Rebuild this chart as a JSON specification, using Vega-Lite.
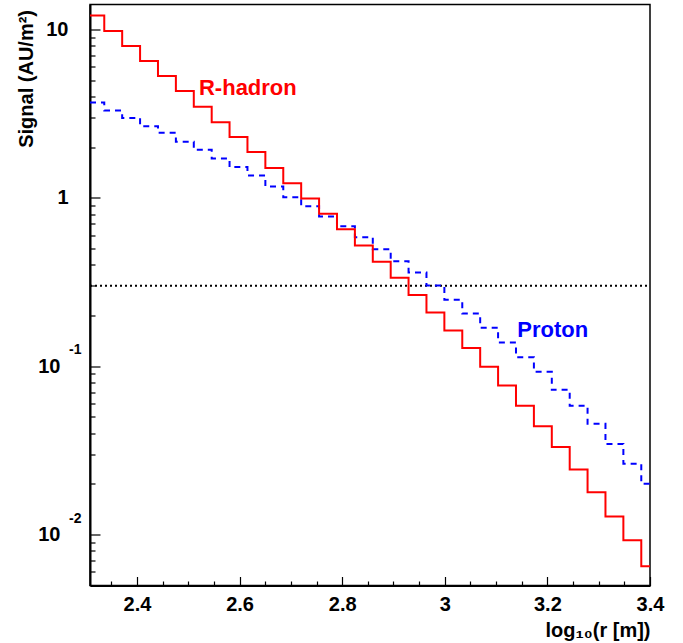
{
  "$schema": "https://vega.github.io/schema/vega-lite/v6.json",
  "width": 560,
  "height": 581,
  "autosize": {"type": "none"},
  "padding": {"left": 90, "top": 4.5, "right": 33, "bottom": 57},
  "background": "white",
  "config": {
    "view": {"stroke": "black", "strokeWidth": 1.5},
    "axis": {
      "grid": false,
      "domainColor": "black",
      "domainWidth": 2,
      "tickColor": "black",
      "tickWidth": 1.2,
      "labelFont": "Liberation Sans",
      "labelFontWeight": "bold",
      "labelFontSize": 20,
      "labelColor": "black",
      "titleFont": "Liberation Sans",
      "titleFontWeight": "bold",
      "titleFontSize": 20,
      "titleColor": "black"
    },
    "text": {"font": "Liberation Sans"}
  },
  "datasets": {
    "ref": [{"x": 2.3085, "x2": 3.4, "y": 0.3}],
    "rhadron": [
      {"x": 2.3085, "y": 12.1}, {"x": 2.3363, "y": 9.77}, {"x": 2.3712, "y": 7.96}, {"x": 2.4061, "y": 6.48},
      {"x": 2.441, "y": 5.28}, {"x": 2.4759, "y": 4.3}, {"x": 2.5108, "y": 3.47}, {"x": 2.5457, "y": 2.81},
      {"x": 2.5805, "y": 2.29}, {"x": 2.6154, "y": 1.87}, {"x": 2.6503, "y": 1.5}, {"x": 2.6852, "y": 1.22},
      {"x": 2.7201, "y": 0.99}, {"x": 2.755, "y": 0.803}, {"x": 2.7899, "y": 0.649}, {"x": 2.8248, "y": 0.521},
      {"x": 2.8597, "y": 0.417}, {"x": 2.8946, "y": 0.335}, {"x": 2.9294, "y": 0.264}, {"x": 2.9643, "y": 0.208},
      {"x": 2.9992, "y": 0.163}, {"x": 3.0341, "y": 0.128}, {"x": 3.069, "y": 0.099}, {"x": 3.1039, "y": 0.0767},
      {"x": 3.1388, "y": 0.0581}, {"x": 3.1737, "y": 0.0439}, {"x": 3.2086, "y": 0.0331}, {"x": 3.2435, "y": 0.0243},
      {"x": 3.2783, "y": 0.0178}, {"x": 3.3132, "y": 0.0128}, {"x": 3.3481, "y": 0.00925}, {"x": 3.383, "y": 0.00648},
      {"x": 3.4, "y": 0.00648}
    ],
    "proton": [
      {"x": 2.3085, "y": 3.68}, {"x": 2.3363, "y": 3.3}, {"x": 2.3712, "y": 2.97}, {"x": 2.4061, "y": 2.66},
      {"x": 2.441, "y": 2.43}, {"x": 2.4759, "y": 2.15}, {"x": 2.5108, "y": 1.93}, {"x": 2.5457, "y": 1.71},
      {"x": 2.5805, "y": 1.52}, {"x": 2.6154, "y": 1.357}, {"x": 2.6503, "y": 1.167}, {"x": 2.6852, "y": 1.008},
      {"x": 2.7201, "y": 0.891}, {"x": 2.755, "y": 0.774}, {"x": 2.7899, "y": 0.678}, {"x": 2.8248, "y": 0.583},
      {"x": 2.8597, "y": 0.495}, {"x": 2.8946, "y": 0.42}, {"x": 2.9294, "y": 0.36}, {"x": 2.9643, "y": 0.301},
      {"x": 2.9992, "y": 0.248}, {"x": 3.0341, "y": 0.205}, {"x": 3.069, "y": 0.169}, {"x": 3.1039, "y": 0.138},
      {"x": 3.1388, "y": 0.113}, {"x": 3.1737, "y": 0.0925}, {"x": 3.2086, "y": 0.0723}, {"x": 3.2435, "y": 0.0581},
      {"x": 3.2783, "y": 0.0454}, {"x": 3.3132, "y": 0.0345}, {"x": 3.3481, "y": 0.0263}, {"x": 3.383, "y": 0.02},
      {"x": 3.4, "y": 0.02}
    ],
    "labels": [
      {"x": 2.5209, "y": 4.05, "label": "R-hadron", "series": "R-hadron"},
      {"x": 3.1413, "y": 0.1485, "label": "Proton", "series": "Proton"}
    ],
    "exponents": [
      {"x": 2.3085, "y": 0.1, "label": "-1"},
      {"x": 2.3085, "y": 0.01, "label": "-2"}
    ]
  },
  "encoding": {
    "x": {
      "field": "x",
      "type": "quantitative",
      "scale": {"domain": [2.3085, 3.4], "nice": false, "zero": false},
      "axis": {
        "values": [2.35, 2.4, 2.45, 2.5, 2.55, 2.6, 2.65, 2.7, 2.75, 2.8, 2.85, 2.9, 2.95, 3, 3.05, 3.1, 3.15, 3.2, 3.25, 3.3, 3.35, 3.4],
        "labelExpr": "abs(datum.value*5-round(datum.value*5))<0.001 ? format(datum.value,'~g') : ''",
        "tickSize": {"condition": {"test": "abs(datum.value*5-round(datum.value*5))<0.001", "value": -9}, "value": -4.5},
        "labelPadding": 18,
        "labelFlush": false,
        "labelOverlap": false,
        "title": "log₁₀(r [m])",
        "titleAnchor": "end",
        "titleAlign": "right",
        "titlePadding": 1
      }
    },
    "y": {
      "field": "y",
      "type": "quantitative",
      "scale": {"type": "log", "domain": [0.00498, 14.04], "nice": false},
      "axis": {
        "values": [0.005, 0.006, 0.007, 0.008, 0.009, 0.01, 0.02, 0.03, 0.04, 0.05, 0.06, 0.07, 0.08, 0.09, 0.1, 0.2, 0.3, 0.4, 0.5, 0.6, 0.7, 0.8, 0.9, 1, 2, 3, 4, 5, 6, 7, 8, 9, 10],
        "labelExpr": "abs(log(datum.value)/LN10 - round(log(datum.value)/LN10)) < 0.001 ? (abs(datum.value-1)<0.001 ? '1' : '10') : ''",
        "tickSize": {"condition": {"test": "abs(log(datum.value)/LN10 - round(log(datum.value)/LN10)) < 0.001", "value": -10}, "value": -5},
        "labelPadding": {"condition": {"test": "datum.value < 0.5", "value": 40}, "value": 32},
        "labelBaseline": "middle",
        "labelFlush": false,
        "labelOverlap": false,
        "title": "Signal (AU/m²)",
        "titleAnchor": "end",
        "titleY": 5,
        "titlePadding": 1
      }
    }
  },
  "layer": [
    {
      "data": {"name": "ref"},
      "mark": {"type": "rule", "color": "black", "strokeDash": [2, 3], "strokeWidth": 2},
      "encoding": {"x2": {"field": "x2"}}
    },
    {
      "data": {"name": "proton"},
      "mark": {"type": "line", "interpolate": "step-after", "color": "#0000ff", "strokeWidth": 2, "strokeDash": [6, 5]}
    },
    {
      "data": {"name": "rhadron"},
      "mark": {"type": "line", "interpolate": "step-after", "color": "#ff0000", "strokeWidth": 2}
    },
    {
      "data": {"name": "labels"},
      "mark": {"type": "text", "align": "left", "baseline": "alphabetic", "fontSize": 22, "fontWeight": "bold"},
      "encoding": {
        "text": {"field": "label"},
        "color": {"field": "series", "type": "nominal", "scale": {"domain": ["R-hadron", "Proton"], "range": ["#ff0000", "#0000ff"]}, "legend": null}
      }
    },
    {
      "data": {"name": "exponents"},
      "mark": {"type": "text", "align": "left", "baseline": "middle", "fontSize": 14, "fontWeight": "bold", "dx": -21, "dy": -16, "color": "black", "clip": false},
      "encoding": {"text": {"field": "label"}}
    }
  ]
}
